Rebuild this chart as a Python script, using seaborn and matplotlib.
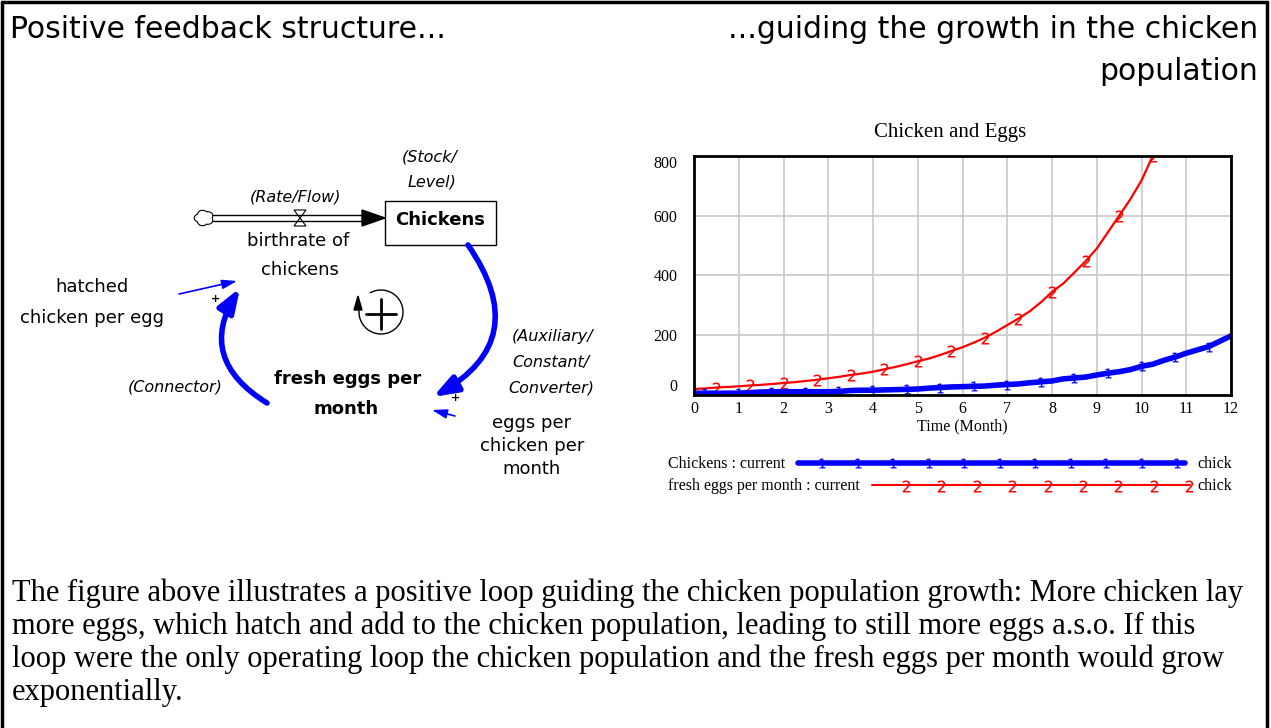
import numpy as np
import pandas as pd
import matplotlib
matplotlib.use("Agg")
import matplotlib.pyplot as plt
import seaborn as sns
from matplotlib.patches import FancyArrowPatch, Rectangle, Polygon, Arc

# ---- data ----
months = np.arange(0, 12.01, 0.25)
chickens = [6, 6, 6, 6, 6, 8, 10, 11, 11, 11, 11, 11, 11,
            12, 15, 16, 16, 17, 18, 19, 20, 23, 25, 27, 28,
            29, 30, 33, 35, 37, 41, 44, 47, 54, 57, 60, 67,
            73, 78, 85, 96, 103, 116, 127, 140, 151, 162, 180, 198]
fresh_eggs = [20, 22, 25, 27, 29, 32, 34, 37, 40, 43, 47, 51, 56,
              61, 67, 72, 78, 86, 94, 103, 113, 122, 134, 147, 160,
              175, 192, 212, 234, 256, 280, 310, 345, 373, 410, 448, 490,
              545, 600, 655, 718, 800, 880, 960, 1050, 1150, 1260, 1380, 1510]
x_ticks = list(range(0, 13))
y_ticks = [0, 200, 400, 600, 800]

text_lines = [
    "The figure above illustrates a positive loop guiding the chicken population growth: More chicken lay",
    "more eggs, which hatch and add to the chicken population, leading to still more eggs a.s.o. If this",
    "loop were the only operating loop the chicken population and the fresh eggs per month would grow",
    "exponentially.",
]

sns.set_theme(style="white")
plt.rcParams['font.family'] = ['DejaVu Sans']
plt.rcParams['text.color'] = 'black'
plt.rcParams['axes.labelcolor'] = 'black'
plt.rcParams['xtick.color'] = 'black'
plt.rcParams['ytick.color'] = 'black'
SERIF = 'Liberation Serif'

W, H = 1271, 728
fig = plt.figure(figsize=(W / 100, H / 100), dpi=100)

# full-figure layer in pixel coordinates for the diagram and the text
bg = fig.add_axes([0, 0, 1, 1])
bg.set_xlim(0, W)
bg.set_ylim(H, 0)
bg.axis('off')

# page frame
bg.plot([2, 2], [H, 2], color='black', lw=2.5)
bg.plot([2, 1267], [2, 2], color='black', lw=2.5)
bg.plot([1267, 1267], [2, H], color='black', lw=2.5)

# headings
bg.text(10, 30, "Positive feedback structure...", fontsize=21.5, va='center', ha='left')
bg.text(1258, 30, "...guiding the growth in the chicken", fontsize=21.5, va='center', ha='right')
bg.text(1258, 72, "population", fontsize=21.5, va='center', ha='right')

# ---- stock and flow diagram ----
th = np.linspace(0, 2 * np.pi, 300)
r = 1 + 0.22 * np.abs(np.sin(2.5 * th))
bg.fill(204 + 8 * r * np.cos(th), 218 + 6.5 * r * np.sin(th), facecolor='white', edgecolor='black', lw=0.8)
bg.plot([213, 364], [215, 215], color='black', lw=1)
bg.plot([213, 364], [221, 221], color='black', lw=1)
bg.add_patch(Polygon([(362, 210), (362, 226), (385, 218)], closed=True, color='black'))
bg.add_patch(Polygon([(294, 210), (306, 210), (300, 218)], closed=True, fc='white', ec='black', lw=0.8))
bg.add_patch(Polygon([(294, 226), (306, 226), (300, 218)], closed=True, fc='white', ec='black', lw=0.8))
bg.add_patch(Rectangle((385, 201), 111, 44, fill=False, ec='black', lw=1))

REG, BOLD, ITAL = 13, 13, 11.5
bg.text(440, 220, "Chickens", fontsize=BOLD, fontweight='bold', ha='center', va='center')
bg.text(430, 157, "(Stock/", fontsize=ITAL, style='italic', ha='center', va='center')
bg.text(432, 182, "Level)", fontsize=ITAL, style='italic', ha='center', va='center')
bg.text(296, 197, "(Rate/Flow)", fontsize=ITAL, style='italic', ha='center', va='center')
bg.text(298, 241, "birthrate of", fontsize=REG, ha='center', va='center')
bg.text(300, 270, "chickens", fontsize=REG, ha='center', va='center')
bg.text(92, 287, "hatched", fontsize=REG, ha='center', va='center')
bg.text(92, 318, "chicken per egg", fontsize=REG, ha='center', va='center')
bg.text(348, 379, "fresh eggs per", fontsize=BOLD, fontweight='bold', ha='center', va='center')
bg.text(346, 409, "month", fontsize=BOLD, fontweight='bold', ha='center', va='center')
bg.text(553, 337, "(Auxiliary/", fontsize=ITAL, style='italic', ha='center', va='center')
bg.text(551, 362, "Constant/", fontsize=ITAL, style='italic', ha='center', va='center')
bg.text(551, 388, "Converter)", fontsize=ITAL, style='italic', ha='center', va='center')
bg.text(175, 387, "(Connector)", fontsize=ITAL, style='italic', ha='center', va='center')
bg.text(532, 423, "eggs per", fontsize=REG, ha='center', va='center')
bg.text(532, 446, "chicken per", fontsize=REG, ha='center', va='center')
bg.text(532, 469, "month", fontsize=REG, ha='center', va='center')
bg.text(455, 398, "+", fontsize=8, fontweight='bold', ha='center', va='center')
bg.text(215, 299, "+", fontsize=8, fontweight='bold', ha='center', va='center')

big = '-|>,head_length=1.1,head_width=0.4'
bg.add_patch(FancyArrowPatch((468, 245), (433, 397), connectionstyle='arc3,rad=-0.55',
                             arrowstyle=big, mutation_scale=13, color='blue', lw=4,
                             shrinkA=0, shrinkB=0))
bg.add_patch(FancyArrowPatch((267, 403), (240, 288), connectionstyle='arc3,rad=-0.5',
                             arrowstyle=big, mutation_scale=13, color='blue', lw=4,
                             shrinkA=0, shrinkB=0))
small = '-|>,head_length=0.9,head_width=0.28'
bg.add_patch(FancyArrowPatch((179, 294), (237, 281), arrowstyle=small, mutation_scale=10,
                             color='blue', lw=1.2, shrinkA=0, shrinkB=0))
bg.add_patch(FancyArrowPatch((455, 416), (432, 410), arrowstyle=small, mutation_scale=10,
                             color='blue', lw=1.2, shrinkA=0, shrinkB=0))

# loop symbol
bg.add_patch(Arc((381, 312), 44, 44, theta1=-120, theta2=185, color='black', lw=1))
bg.add_patch(Polygon([(354, 310), (362, 310), (358, 296)], closed=True, color='black'))
bg.plot([366, 396], [314, 314], color='black', lw=2)
bg.plot([381, 381], [299, 329], color='black', lw=2)

# ---- simulation chart ----
ax = fig.add_axes([694 / W, 1 - 395 / H, (1231 - 694) / W, (395 - 156) / H])
df = pd.DataFrame({"Time": months, "Chickens": chickens, "fresh eggs per month": fresh_eggs})
sns.lineplot(data=df, x="Time", y="fresh eggs per month", ax=ax, color='#ff0000', lw=1.6,
             marker='$2$', markersize=8.5, markevery=slice(2, None, 3),
             mfc='#ff0000', mec='#ff0000', mew=0.1)
sns.lineplot(data=df, x="Time", y="Chickens", ax=ax, color='#0000ff', lw=4,
             marker='$1$', markersize=7, markevery=slice(1, None, 3),
             mfc='#0000ff', mec='#0000ff', mew=0.1)
ax.set_xlim(0, 12)
ax.set_ylim(0, 800)
ax.set_xticks(x_ticks)
ax.set_yticks(y_ticks)
ax.grid(True, color='#c8c8c8', lw=1.2)
for s in ax.spines.values():
    s.set_color('black')
    s.set_linewidth(2)
ax.tick_params(length=0, labelsize=11.5, colors='black')
ax.tick_params(axis='x', pad=4)
ax.tick_params(axis='y', pad=12)
for t in ax.get_xticklabels() + ax.get_yticklabels():
    t.set_fontfamily(SERIF)
ylabs = ax.get_yticklabels()
ylabs[0].set_va('bottom')
ylabs[-1].set_va('top')
ax.set_xlabel("Time (Month)", fontfamily=SERIF, fontsize=11.5, labelpad=1, color='black')
ax.set_ylabel("")
bg.text(950, 132, "Chicken and Eggs", fontfamily=SERIF, fontsize=15, ha='center', va='center')

# Vensim style legend
bg.text(668, 464, "Chickens : current", fontfamily=SERIF, fontsize=11.5, va='center')
bg.plot([798, 1185], [463, 463], color='#0000ff', lw=4)
bg.plot(np.linspace(822, 1177, 11), [463] * 11, ls='none', marker='$1$', markersize=7,
        mfc='#0000ff', mec='#0000ff', mew=0.1)
bg.text(1197, 464, "chick", fontfamily=SERIF, fontsize=11.5, va='center')
bg.text(668, 486, "fresh eggs per month : current", fontfamily=SERIF, fontsize=11.5, va='center')
bg.plot([872, 1190], [485, 485], color='#ff0000', lw=1.5)
bg.plot(np.linspace(906, 1189, 9), [486] * 9, ls='none', marker='$2$', markersize=8.5,
        mfc='#ff0000', mec='#ff0000', mew=0.1)
bg.text(1197, 486, "chick", fontfamily=SERIF, fontsize=11.5, va='center')

# explanation text
for i, line in enumerate(text_lines):
    bg.text(12, 601 + 33 * i, line, fontfamily=SERIF, fontsize=22, va='baseline', ha='left')

fig.savefig("out.png", dpi=100)
